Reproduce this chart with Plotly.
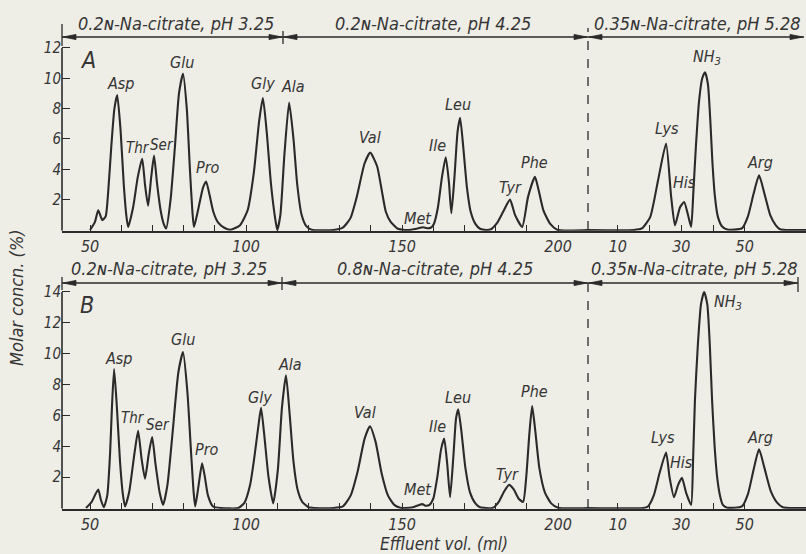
import plotly.graph_objects as go

# ---------------------------------------------------------------- data
# Elution profile, section 1: effluent volume (ml) vs molar concentration (%)
A1_X = [50, 51.5, 52.6, 53.4, 53.9, 55.0, 55.8, 56.8, 57.8, 58.7, 59.8, 60.8, 61.6, 62.2,
        63.8, 65.3, 66.7, 67.6, 68.6, 69.6, 70.5, 71.5, 72.6, 73.6, 74.4,
        75.8, 77.2, 78.5, 79.8, 81.0, 82.0, 82.8, 83.3,
        84.5, 86.2, 87.2, 88.2, 89.5, 91.0, 93.0, 95.0,
        98.0, 100.5, 102.5, 104.2, 105.4, 106.6, 108.0, 109.3, 110.0,
        111.0, 112.3, 113.8, 115.2, 116.4, 117.8, 119.3, 121.0,
        128.0, 131.0, 133.5, 135.5, 138.0, 139.8, 142.0, 143.5, 144.8, 146.3, 148.5, 151.0,
        153.0, 155.0, 156.7, 158.0, 159.2,
        160.2, 161.5, 162.8, 164.0, 165.0, 165.8,
        166.8, 167.8, 168.6, 169.6, 170.8, 172.0, 173.5, 175.0, 177.0,
        178.5, 180.4, 182.4, 184.6, 186.2, 188.5,
        190.4, 192.6, 193.8, 195.3, 197.5, 199.7, 209.6]
A1_Y = [0, 0.5, 1.3, 0.9, 0.65, 0.9, 2.5, 5.5, 8.0, 8.9, 6.5, 3.0, 1.0, 0.2,
        1.5, 3.5, 4.7, 3.0, 1.6, 3.5, 4.9, 3.0, 1.3, 0.4, 0.1,
        2.0, 5.5, 9.0, 10.3, 8.0, 4.0, 1.2, 0.2,
        1.2, 2.8, 3.2, 2.4, 1.2, 0.5, 0.15, 0.02,
        0.3, 1.3, 3.8, 7.2, 8.7, 6.5, 3.0, 0.8, 0.0,
        1.0, 5.0, 8.4, 6.0, 3.0, 1.0, 0.25, 0.02,
        0.0, 0.15, 0.8, 2.2, 4.4, 5.1, 4.2, 2.6, 1.2, 0.55, 0.1, 0.0,
        0.02, 0.1, 0.18, 0.12, 0.15,
        0.4, 1.5, 3.5, 4.8, 3.2, 1.1,
        3.5, 6.5, 7.4, 5.5, 2.8, 1.2, 0.4, 0.08, 0.0,
        0.05, 0.45, 1.2, 2.0, 1.0, 0.2,
        2.2, 3.5, 2.6, 1.3, 0.4, 0.02, 0.0]

# Elution profile, section 2 (after buffer change): effluent volume (ml)
A2_X = [0.6, 15.0, 17.6, 20.2, 22.7, 25.2, 26.8, 28.0,
        29.6, 30.9, 32.1, 33.1,
        33.8, 34.6, 35.6, 36.6, 37.5, 38.4, 39.2, 39.8, 40.6, 41.5, 42.8, 44.5,
        49.1, 51.0, 52.8, 54.5, 56.2, 58.0, 59.8, 61.1, 63.0, 69.3]
A2_Y = [0, 0, 0.1, 0.85, 3.3, 5.7, 2.2, 0.3,
        1.5, 1.85, 1.0, 0.2,
        2.5, 5.5, 8.5, 10.0, 10.4, 9.6, 7.0, 4.5, 2.2, 0.9, 0.25, 0.03,
        0.1, 0.9, 2.4, 3.6, 2.4, 1.0, 0.3, 0.05, 0.0, 0.0]

B1_X = [48.7, 50.5, 52.6, 53.5, 54.4, 55.5, 56.4, 57.0, 57.7, 58.6, 59.6, 60.5, 61.2,
        62.5, 64.2, 65.4, 66.5, 67.6, 68.8, 69.9, 71.0, 72.3, 73.4,
        74.8, 76.5, 78.3, 79.8, 81.2, 82.4, 83.2, 83.7,
        84.8, 85.9, 86.8, 87.8, 89.4, 92.0, 97.5,
        99.5, 101.3, 102.6, 104.0, 104.8, 105.8, 107.2, 108.7,
        110.2, 111.5, 112.8, 114.0, 115.2, 116.5, 118.0, 120.0, 122.0,
        128.0, 131.0, 133.5, 135.8, 138.0, 139.7, 141.5, 143.5, 145.5, 147.5, 149.4,
        151.0, 153.5, 155.5, 156.5, 157.5, 158.8,
        160.0, 161.3, 162.5, 163.5, 164.5, 165.4,
        166.5, 167.3, 168.0, 169.0, 170.3, 171.8, 173.5, 175.0, 177.0,
        179.0, 181.0, 182.8, 184.3, 185.8, 187.4, 188.8,
        189.8, 190.8, 191.7, 192.7, 194.0, 195.8, 197.8, 200.0, 209.6]
B1_Y = [0, 0.4, 1.2, 0.5, 0.05, 0.8, 3.5, 6.5, 9.0, 6.5, 3.0, 0.9, 0.1,
        1.0, 3.5, 5.0, 3.2, 1.9, 3.5, 4.6, 2.8, 1.0, 0.2,
        1.5, 5.0, 8.8, 10.1, 7.5, 3.5, 1.0, 0.1,
        1.5, 2.9, 2.0, 0.8, 0.1, 0.0, 0.0,
        0.35, 1.5, 3.2, 5.4, 6.5, 4.8, 2.0, 0.3,
        2.5, 6.5, 8.6, 6.0, 3.0, 1.2, 0.4, 0.05, 0.0,
        0.0, 0.1, 0.8, 2.4, 4.5, 5.3, 4.3, 2.2, 0.8, 0.2, 0.02,
        0.0, 0.05, 0.2, 0.25, 0.15, 0.2,
        0.6, 2.0, 3.8, 4.5, 2.8, 0.7,
        3.5, 5.8, 6.4, 5.0, 2.6, 1.0, 0.3, 0.05, 0.0,
        0.0, 0.4, 1.1, 1.5, 1.2, 0.6, 0.4,
        2.0, 4.8, 6.6, 5.0, 2.6, 1.0, 0.3, 0.02, 0.0]

B2_X = [0.6, 18.0, 19.5, 21.3, 23.2, 25.2, 26.3, 27.7,
        29.0, 30.2, 31.5, 33.1,
        33.7, 34.3, 35.2, 36.2, 37.2, 38.2, 39.0, 39.7, 40.5, 41.3, 42.2, 43.1, 44.5,
        49.1, 51.0, 52.8, 54.5, 56.2, 58.2, 60.2, 62.0, 64.0, 69.3]
B2_Y = [0, 0, 0.1, 0.8, 2.3, 3.6, 2.0, 0.7,
        1.5, 1.95, 1.0, 0.2,
        3.0, 7.0, 10.5, 13.2, 14.0, 13.2, 10.5, 7.0, 4.0, 2.0, 0.8, 0.2, 0.02,
        0.1, 0.9, 2.5, 3.8, 2.6, 1.1, 0.35, 0.05, 0.0, 0.0]

PEAKS_1 = ["Asp", "Thr", "Ser", "Glu", "Pro", "Gly", "Ala", "Val", "Met", "Ile", "Leu", "Tyr", "Phe"]
PEAKS_2 = ["Lys", "His", "NH<sub>3</sub>", "Arg"]

X1_TICKS = [50, 100, 150, 200]
X1_LABELS = ["50", "100", "150", "200"]
X2_TICKS = [10, 30, 50]
X2_LABELS = ["10", "30", "50"]
A_Y_TICKS = [2, 4, 6, 8, 10, 12]
B_Y_TICKS = [2, 4, 6, 8, 10, 12, 14]

BUFFERS_A = ["0.2ɴ-Na-citrate, pH 3.25", "0.2ɴ-Na-citrate, pH 4.25", "0.35ɴ-Na-citrate, pH 5.28"]
BUFFERS_B = ["0.2ɴ-Na-citrate, pH 3.25", "0.8ɴ-Na-citrate, pH 4.25", "0.35ɴ-Na-citrate, pH 5.28"]

# ---------------------------------------------------------------- layout helpers
W, H = 806, 554
INK = "#2a2a2a"
TXT = "#353535"
PAPER = "#eeede6"
FONT = "Liberation Sans Narrow, DejaVu Sans Condensed, Liberation Sans, DejaVu Sans, sans-serif"

def px(p):
    return p / W

def py(p):
    return 1 - p / H

X_LEFT, X_SPLIT = 62, 588
A_BASE, A_UNIT = 230.0, 15.17
B_BASE, B_UNIT = 508.0, 15.43
A_RANGE = [-0.05, 13.5]
B_RANGE = [-0.05, 15.0]

def ydomain(base, unit, rng):
    bottom = base - rng[0] * unit
    top = base - rng[1] * unit
    return [py(bottom), py(top)]

fig = go.Figure()

line_style = dict(color=INK, width=2.1, shape="spline", smoothing=0.55)
for xs, ys, xa, ya in [(A1_X, A1_Y, "x", "y"), (A2_X, A2_Y, "x2", "y"),
                       (B1_X, B1_Y, "x3", "y2"), (B2_X, B2_Y, "x4", "y2")]:
    fig.add_trace(go.Scatter(x=xs, y=ys, mode="lines", line=line_style,
                             xaxis=xa, yaxis=ya, hoverinfo="skip", showlegend=False))

minor_ticks = dict(ticks="inside", ticklen=6, tickwidth=1.3, tickcolor=INK,
                   tickmode="linear", tick0=0, dtick=10, showgrid=False)
xcommon = dict(showline=True, linecolor=INK, linewidth=1.6, ticks="inside", ticklen=6,
               tickwidth=1.3, tickcolor=INK, showgrid=False, zeroline=False,
               tickfont=dict(size=16, color=TXT), fixedrange=True, minor=minor_ticks)
ycommon = dict(showline=False, ticks="inside", ticklen=8, tickwidth=1.3, tickcolor=INK,
               showgrid=False, zeroline=False, tickfont=dict(size=15, color=TXT),
               fixedrange=True)

sec1_range = [41.0, 209.6]
sec2_range = [0.6, 69.3]
d1 = [px(X_LEFT), px(X_SPLIT)]
d2 = [px(X_SPLIT), 1.0]

fig.update_layout(
    xaxis=dict(domain=d1, range=sec1_range, anchor="y", tickvals=X1_TICKS, ticktext=X1_LABELS, **xcommon),
    xaxis2=dict(domain=d2, range=sec2_range, anchor="y", tickvals=X2_TICKS, ticktext=X2_LABELS, **xcommon),
    xaxis3=dict(domain=d1, range=sec1_range, anchor="y2", tickvals=X1_TICKS, ticktext=X1_LABELS, **xcommon),
    xaxis4=dict(domain=d2, range=sec2_range, anchor="y2", tickvals=X2_TICKS, ticktext=X2_LABELS, **xcommon),
    yaxis=dict(domain=ydomain(A_BASE, A_UNIT, A_RANGE), range=A_RANGE, anchor="x",
               tickvals=A_Y_TICKS, **ycommon),
    yaxis2=dict(domain=ydomain(B_BASE, B_UNIT, B_RANGE), range=B_RANGE, anchor="x3",
                tickvals=B_Y_TICKS, **ycommon),
)
# the second elution section carries no minor tick beyond 50 ml
fig.update_layout(xaxis2_minor=dict(tickmode="array", tickvals=[20, 40]),
                  xaxis4_minor=dict(tickmode="array", tickvals=[20, 40]))

shapes = []
# vertical axis lines, up to the top tick
shapes.append(dict(type="line", xref="x domain", yref="y", x0=0, x1=0, y0=A_RANGE[0], y1=A_Y_TICKS[-1],
                   line=dict(color=INK, width=1.6)))
shapes.append(dict(type="line", xref="x3 domain", yref="y2", x0=0, x1=0, y0=B_RANGE[0], y1=B_Y_TICKS[-1],
                   line=dict(color=INK, width=1.6)))
# dashed divider between the two elution sections
shapes.append(dict(type="line", xref="paper", yref="paper", x0=px(X_SPLIT), x1=px(X_SPLIT),
                   y0=py(A_BASE), y1=py(28), line=dict(color=INK, width=1.3, dash="dash")))
shapes.append(dict(type="line", xref="paper", yref="paper", x0=px(X_SPLIT), x1=px(X_SPLIT),
                   y0=py(B_BASE), y1=py(279), line=dict(color=INK, width=1.3, dash="dash")))

annotations = []

HEAD_L, HEAD_H = 13, 2.6

def head(xtip, y, direction):
    # slim filled arrowhead; direction -1 points left, +1 points right
    xb = xtip - direction * HEAD_L
    return dict(type="path", xref="paper", yref="paper", line=dict(color=INK, width=0.8),
                fillcolor=INK,
                path=f"M {px(xtip)},{py(y)} L {px(xb)},{py(y - HEAD_H)} L {px(xb)},{py(y + HEAD_H)} Z")

def buffer_bar(yline, labels, ytext, ticks, spans, centers):
    for (a, b) in spans:
        shapes.append(dict(type="line", xref="paper", yref="paper", x0=px(a), x1=px(b),
                           y0=py(yline), y1=py(yline), line=dict(color=INK, width=1.4)))
        shapes.append(head(a + 1, yline, -1))
        shapes.append(head(b - 1, yline, 1))
    for (xt, t0, t1) in ticks:
        shapes.append(dict(type="line", xref="paper", yref="paper", x0=px(xt), x1=px(xt),
                           y0=py(t1), y1=py(t0), line=dict(color=INK, width=1.3)))
    for lab, cx in zip(labels, centers):
        annotations.append(dict(xref="paper", yref="paper", x=px(cx), y=py(ytext), text=lab,
                                showarrow=False, font=dict(size=18, color=TXT),
                                xanchor="center", yanchor="middle"))

buffer_bar(37, BUFFERS_A, 23,
           ticks=[(X_LEFT, 24, 46), (283, 31, 44)],
           spans=[(X_LEFT, 283), (283, X_SPLIT), (X_SPLIT, 804)],
           centers=[176, 433, 697])
buffer_bar(283, BUFFERS_B, 268,
           ticks=[(X_LEFT, 277, 290), (282, 277, 290), (798, 277, 292)],
           spans=[(X_LEFT, 282), (282, X_SPLIT), (X_SPLIT, 798)],
           centers=[169, 435, 694])

# peak labels placed in data coordinates of each panel
A1_POS = [(59.6, 9.69), (65.3, 5.41), (73.0, 5.60), (79.5, 11.07), (87.8, 4.09), (105.4, 9.69),
          (115.1, 9.49), (139.7, 6.13), (155.1, 0.79), (161.2, 5.60), (167.9, 8.24),
          (184.6, 2.83), (192.6, 4.42)]
A2_POS = [(25.5, 6.72), (30.9, 3.10), (38.1, 11.34), (54.8, 4.42)]
B1_POS = [(59.0, 9.72), (63.6, 5.83), (71.9, 5.38), (79.8, 10.89), (87.5, 3.76), (104.5, 7.19),
          (114.1, 9.27), (138.1, 6.16), (155.1, 1.17), (161.2, 5.25), (167.9, 7.19),
          (183.7, 2.14), (192.6, 7.52)]
B2_POS = [(24.3, 4.60), (30.2, 2.98), (44.7, 13.35), (54.8, 4.60)]

for names, pos, xr, yr in [(PEAKS_1, A1_POS, "x", "y"), (PEAKS_2, A2_POS, "x2", "y"),
                           (PEAKS_1, B1_POS, "x3", "y2"), (PEAKS_2, B2_POS, "x4", "y2")]:
    for name, (xv, yv) in zip(names, pos):
        size = 15 if name in ("Thr", "Ser") else 16
        annotations.append(dict(xref=xr, yref=yr, x=xv, y=yv, text=name, showarrow=False,
                                font=dict(size=size, color=TXT), xanchor="center", yanchor="middle"))

# panel letters and axis titles
annotations.append(dict(xref="paper", yref="paper", x=px(88), y=py(60), text="A", showarrow=False,
                        font=dict(size=23, color=TXT), xanchor="center", yanchor="middle"))
annotations.append(dict(xref="paper", yref="paper", x=px(87), y=py(305), text="B", showarrow=False,
                        font=dict(size=23, color=TXT), xanchor="center", yanchor="middle"))
annotations.append(dict(xref="paper", yref="paper", x=px(16), y=py(298), text="Molar concn. (%)",
                        showarrow=False, textangle=-90, font=dict(size=18, color=TXT),
                        xanchor="center", yanchor="middle"))
annotations.append(dict(xref="paper", yref="paper", x=px(444), y=py(543.5), text="Effluent vol. (ml)",
                        showarrow=False, font=dict(size=17, color=TXT),
                        xanchor="center", yanchor="middle"))

fig.update_layout(
    width=W, height=H, margin=dict(l=0, r=0, t=0, b=0),
    paper_bgcolor=PAPER, plot_bgcolor=PAPER,
    font=dict(family=FONT, color=TXT, style="italic"),
    shapes=shapes, annotations=annotations, showlegend=False,
)

fig.write_html("out.html")
